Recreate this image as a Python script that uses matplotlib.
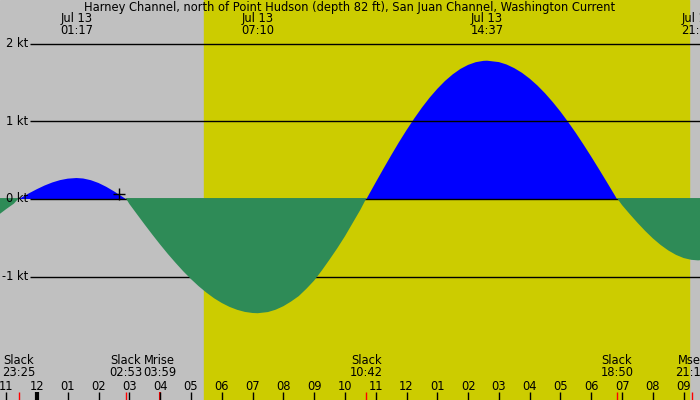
import numpy as np
import matplotlib
matplotlib.use("Agg")
import matplotlib.pyplot as plt

plt.rcParams['font.family'] = ['DejaVu Sans']

title = "Harney Channel, north of Point Hudson (depth 82 ft), San Juan Channel, Washington Current"

# current speed (kt), hours from midnight Jul 13
t_hours = np.array([-1.5, -1.25, -1.0, -0.75, -0.583, -0.5, -0.25, 0.0, 0.25, 0.5, 0.75, 1.0, 1.283,
                    1.5, 1.75, 2.0, 2.25, 2.5, 2.75, 2.883,
                    3.0, 3.25, 3.5, 3.75, 4.0, 4.25, 4.5, 4.75, 5.0, 5.25, 5.5, 5.75, 6.0, 6.25,
                    6.5, 6.75, 7.0, 7.167, 7.5, 7.75, 8.0, 8.25, 8.5, 8.75, 9.0, 9.25, 9.5, 9.75,
                    10.0, 10.25, 10.5, 10.7, 11.0, 11.25, 11.5, 11.75, 12.0, 12.25, 12.5, 12.75,
                    13.0, 13.25, 13.5, 13.75, 14.0, 14.25, 14.5, 14.617, 15.0, 15.25, 15.5, 15.75,
                    16.0, 16.25, 16.5, 16.75, 17.0, 17.25, 17.5, 17.75, 18.0, 18.25, 18.5, 18.75,
                    18.833, 19.0, 19.25, 19.5, 19.75, 20.0, 20.25, 20.5, 20.75, 21.0, 21.25,
                    21.467, 22.0])
speed = np.array([-0.28, -0.205, -0.13, -0.06, 0.0, 0.019, 0.075, 0.127, 0.174, 0.213, 0.243, 0.262, 0.27,
                  0.264, 0.242, 0.206, 0.157, 0.099, 0.035, 0.0,
                  -0.063, -0.197, -0.330, -0.460, -0.586, -0.707, -0.821, -0.930, -1.030, -1.122,
                  -1.204, -1.277, -1.338, -1.388, -1.426, -1.453, -1.467, -1.47, -1.455, -1.425,
                  -1.38, -1.32, -1.25, -1.155, -1.05, -0.92, -0.78, -0.635, -0.48, -0.31, -0.14,
                  0.0, 0.214, 0.389, 0.561, 0.728, 0.886, 1.036, 1.176, 1.304, 1.418, 1.519,
                  1.604, 1.674, 1.726, 1.761, 1.778, 1.78, 1.762, 1.731, 1.684, 1.624, 1.549,
                  1.461, 1.360, 1.247, 1.124, 0.990, 0.849, 0.699, 0.544, 0.384, 0.221, 0.056,
                  0.0, -0.079, -0.195, -0.306, -0.411, -0.507, -0.591, -0.662, -0.719, -0.760,
                  -0.783, -0.79, -0.77])

def to_h(s, day=0):
    hh, mm = s.split(":")
    return day * 24 + int(hh) + int(mm) / 60.0

# max current labels at top
max_times = ["01:17", "07:10", "14:37", "21:28"]
# events at bottom
event_names = ["Slack", "Slack", "Mrise", "Slack", "Slack", "Mset"]
event_times = ["23:25", "02:53", "03:59", "10:42", "18:50", "21:16"]
event_days = [-1, 0, 0, 0, 0, 0]
sunrise = "05:25"
sunset = "21:10"
now_time, now_speed = "02:40", 0.065
y_levels = [2, 1, 0, -1]

# pixel helpers (y pixel -> kt)
def py(p):
    return (199 - p) / 77.7

x0, x1 = -1.2, 21.53
fig = plt.figure(figsize=(7, 4), dpi=100)
ax = fig.add_axes([0, 0, 1, 1])
ax.set_xlim(x0, x1)
ax.set_ylim(py(400), py(0))
ax.axis('off')
ax.add_patch(plt.Rectangle((x0, py(400)), x1 - x0, py(0) - py(400), color='#c0c0c0', zorder=0))
ax.axvspan(to_h(sunrise), to_h(sunset), color='#cccc00', zorder=0.5)

fs = 8.3
ax.fill_between(t_hours, 0, speed, where=speed >= 0, interpolate=True, color='#0000ff', lw=0, zorder=1)
for lv in y_levels:
    ax.hlines(lv, -0.23, x1, color='black', lw=1, zorder=2)
    ax.text(-0.29, lv, f"{lv} kt", ha='right', va='center', fontsize=fs, zorder=4)
ax.fill_between(t_hours, 0.012, speed, where=speed < 0, interpolate=True, color='#2e8b57', lw=0, zorder=3)

ax.plot([to_h(now_time)], [now_speed], marker='+', color='black', ms=8, mew=1, zorder=5)

ax.text((x0 + x1) / 2, py(8), title, ha='center', va='center', fontsize=fs, zorder=6)
for s in max_times:
    h = to_h(s)
    ax.text(h, py(19), "Jul 13", ha='center', va='center', fontsize=fs, zorder=6)
    ax.text(h, py(31), s, ha='center', va='center', fontsize=fs, zorder=6)

for name, s, d in zip(event_names, event_times, event_days):
    h = to_h(s, d)
    ax.text(h, py(360), name, ha='center', va='center', fontsize=fs, zorder=6)
    ax.text(h, py(373), s, ha='center', va='center', fontsize=fs, zorder=6)
    ax.vlines(h, py(392), py(400), color='red', lw=1.5 if name == "Mrise" else 1, zorder=6)

for h in range(-1, 23):
    lab = h % 12
    if lab == 0:
        lab = 12
    ax.text(h, py(386), f"{lab:02d}", ha='center', va='center', fontsize=fs, zorder=6)
    ax.vlines(h, py(392), py(400), color='black', lw=3 if h == 0 else 1, zorder=6)

fig.savefig("out.png", dpi=100)
